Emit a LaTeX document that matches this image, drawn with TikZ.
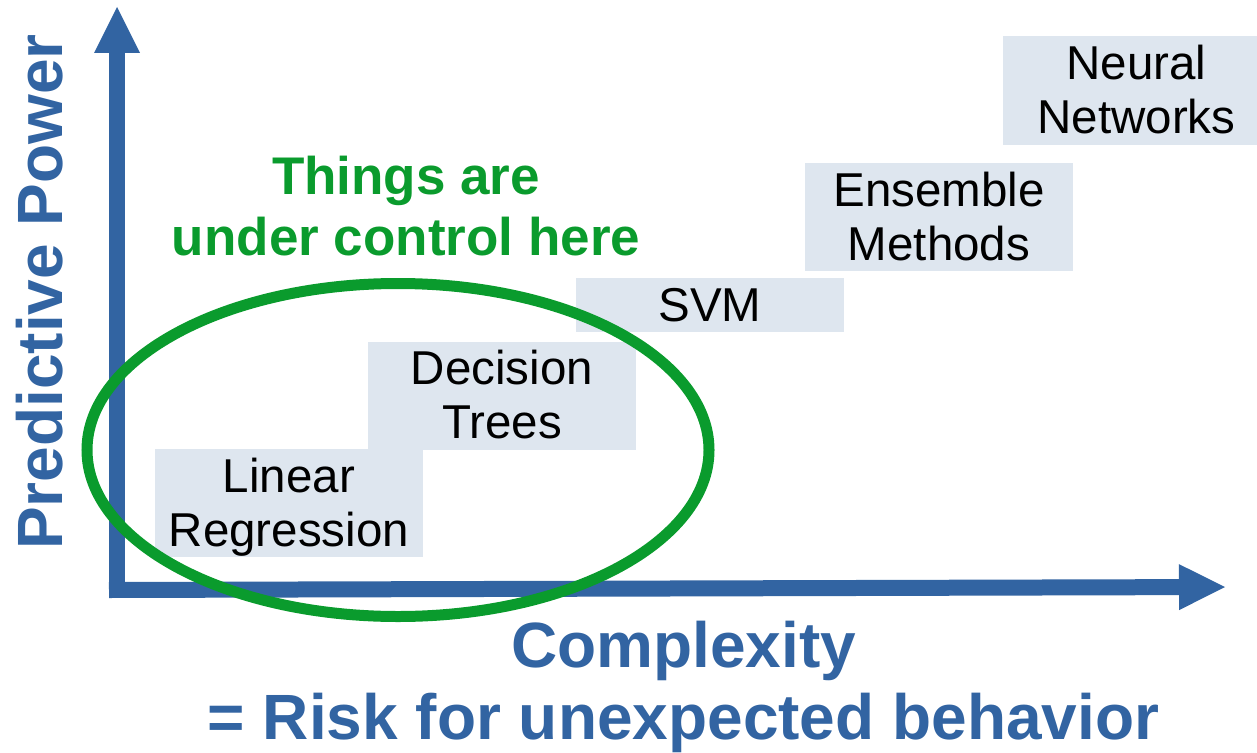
\documentclass[tikz,border=0pt]{standalone}
\usepackage{fontspec}
\setmainfont{Liberation Sans}
\usetikzlibrary{arrows.meta}
\definecolor{axisblue}{RGB}{50,100,162}
\definecolor{ctrlgreen}{RGB}{10,155,45}
\definecolor{boxfill}{RGB}{222,230,239}
% line box with the ascent and descent of the font, so lines centre like in a text frame
\newcommand{\lnstrut}{\rule[-0.212em]{0pt}{1.117em}}

\begin{document}
\begin{tikzpicture}[x=1pt,y=-1pt,
  method/.style={fill=boxfill, inner sep=0pt, minimum width=268pt, align=center,
    font=\fontsize{47.5}{54}\selectfont},
  twoline/.style={method, minimum height=108pt},
  oneline/.style={method, minimum height=54pt},
  axis/.style={draw=axisblue, line width=16pt,
    -{Triangle[length=46pt,width=46pt,line width=0pt]}},
  axislabel/.style={text=axisblue, inner sep=0pt, align=center,
    font=\fontsize{64}{69}\selectfont\bfseries},
  ctrltext/.style={text=ctrlgreen, inner sep=0pt, align=center,
    font=\fontsize{53}{56}\selectfont\bfseries},
]
\useasboundingbox (0,0) rectangle (1257,752);
\clip (0,0) rectangle (1257,752);

% axes
\coordinate (vstart) at (117,598);
\coordinate (ytip) at (117,7);
\coordinate (hstart) at (109,590);
\coordinate (xtip) at (1225,587);
\draw[axis] (vstart) -- (ytip);
\draw[axis] (hstart) -- (xtip);

% model families, ordered by complexity
\node[twoline] (lr) at (289,503) {\lnstrut Linear\\\lnstrut Regression};
\node[twoline] (dt) at (502,395.5) {\lnstrut Decision\\\lnstrut Trees};
\node[oneline] (svm) at (710,305) {\lnstrut SVM};
\node[twoline] (em) at (939,217) {\lnstrut Ensemble\\\lnstrut Methods};
\node[twoline] (nn) at (1136.5,90.5) {\lnstrut Neural\\\lnstrut Networks};

% the region that stays under control
\draw[ctrlgreen, line width=11pt] (398,450) ellipse [x radius=311pt, y radius=166.5pt];
\node[ctrltext] (ctrl) at (406,206.6) {\lnstrut Things are\\\lnstrut under control here};

% axis labels
\node[axislabel, rotate=90, anchor=base] (ylabel) at (62,292) {Predictive Power};
\node[axislabel] (xlabel) at (683.5,681.3) {\lnstrut Complexity\\\lnstrut = Risk for unexpected behavior};
\end{tikzpicture}
\end{document}
